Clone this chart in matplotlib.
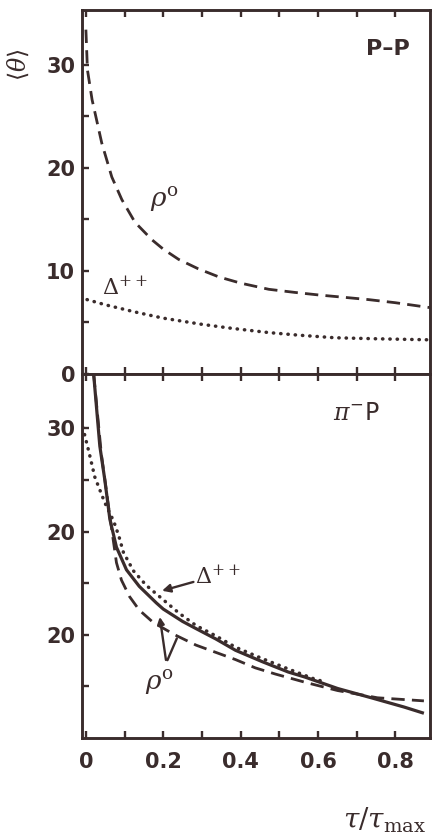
import numpy as np
import matplotlib
matplotlib.use("Agg")
import matplotlib.pyplot as plt
from matplotlib.ticker import MultipleLocator, FixedLocator

plt.rcParams['font.family'] = ['DejaVu Sans']
plt.rcParams['mathtext.fontset'] = 'dejavuserif'

INK = '#3a2c2c'

# верхняя панель: p-p
pp_rho_x = [0.0, 0.004, 0.016, 0.041, 0.067, 0.093, 0.127, 0.171, 0.2, 0.24, 0.29, 0.344,
            0.4, 0.473, 0.54, 0.602, 0.66, 0.731, 0.8, 0.894]
pp_rho_y = [33.4, 29.5, 26.6, 22.4, 19.1, 16.9, 14.7, 13.0, 12.1, 11.1, 10.2, 9.4,
            8.8, 8.2, 7.9, 7.65, 7.45, 7.2, 6.9, 6.4]
pp_delta_x = [0.003, 0.05, 0.127, 0.2, 0.30, 0.38, 0.473, 0.55, 0.643, 0.75, 0.886]
pp_delta_y = [7.2, 6.7, 6.0, 5.4, 4.8, 4.4, 4.0, 3.75, 3.5, 3.4, 3.3]

# нижняя панель: pi- p
pip_solid_x = [0.02, 0.036, 0.049, 0.062, 0.079, 0.105, 0.138, 0.182, 0.2, 0.25, 0.285, 0.336,
               0.387, 0.456, 0.523, 0.567, 0.651, 0.738, 0.823, 0.874]
pip_solid_y = [35.3, 28.3, 25.0, 21.2, 18.5, 16.3, 14.7, 13.1, 12.5, 11.3, 10.6, 9.6,
               8.5, 7.4, 6.4, 5.9, 4.8, 3.9, 3.0, 2.4]
pip_rho_x = [0.02, 0.04, 0.062, 0.079, 0.092, 0.113, 0.138, 0.174, 0.23, 0.285, 0.336, 0.387,
             0.438, 0.49, 0.567, 0.651, 0.754, 0.874]
pip_rho_y = [35.3, 27.5, 21.5, 17.0, 15.3, 13.7, 12.4, 11.2, 10.0, 9.0, 8.3, 7.6,
             6.8, 6.2, 5.4, 4.6, 3.9, 3.6]
pip_delta_x = [-0.008, 0.008, 0.023, 0.049, 0.072, 0.085, 0.097, 0.123, 0.156, 0.2, 0.241,
               0.285, 0.336, 0.387, 0.456, 0.523, 0.585, 0.62]
pip_delta_y = [30.1, 27.7, 25.3, 22.8, 21.0, 19.6, 18.0, 16.2, 14.8, 13.4, 12.1,
               10.9, 9.9, 8.8, 7.7, 6.7, 5.8, 5.4]

top_yticks = [0, 10, 20, 30]
top_ylabels = ['0', '10', '20', '30']
bot_yticks = [10, 20, 30]
bot_ylabels = ['20', '20', '30']
x_tick_text = ['0', '', '0.2', '', '0.4', '', '0.6', '', '0.8']

fig = plt.figure(figsize=(4.34, 8.40), dpi=100)
fig.patch.set_facecolor('white')
ax1 = fig.add_axes([0.189, 0.555, 0.802, 0.433])
ax2 = fig.add_axes([0.189, 0.1214, 0.802, 0.4336])

dash = (0, (4.8, 2.6))
dots = (0, (0.1, 2.0))

ax1.plot(pp_rho_x, pp_rho_y, color=INK, lw=2.0, linestyle=dash)
ax1.plot(pp_delta_x, pp_delta_y, color=INK, lw=2.5, linestyle=dots, dash_capstyle='round')

ax2.plot(pip_solid_x, pip_solid_y, color=INK, lw=2.3, solid_capstyle='butt')
ax2.plot(pip_rho_x, pip_rho_y, color=INK, lw=2.0, linestyle=dash)
ax2.plot(pip_delta_x, pip_delta_y, color=INK, lw=2.5, linestyle=dots, dash_capstyle='round')

for ax in (ax1, ax2):
    ax.set_xlim(-0.01, 0.89)
    ax.set_ylim(0, 35.3)
    ax.xaxis.set_major_locator(MultipleLocator(0.1))
    ax.yaxis.set_minor_locator(FixedLocator([5, 15, 25]))
    ax.tick_params(axis='both', which='both', direction='in', colors=INK,
                   width=1.7, length=5, labelsize=15, labelcolor=INK)
    ax.tick_params(axis='x', top=True, bottom=True)
    ax.tick_params(axis='y', left=True, right=False, pad=5)
    for s in ax.spines.values():
        s.set_color(INK)
        s.set_linewidth(2.1)

ax1.set_yticks(top_yticks)
ax1.set_yticklabels(top_ylabels, fontweight='bold')
ax1.tick_params(axis='x', labelbottom=False)
ax2.set_yticks(bot_yticks)
ax2.set_yticklabels(bot_ylabels, fontweight='bold')
ax2.set_xticks([0.1 * i for i in range(9)])
ax2.set_xticklabels(x_tick_text, fontweight='bold')
ax2.tick_params(axis='x', pad=10)

ax1.text(0.204, 16.9, r'$\rho^{\rm o}$', fontsize=19, color=INK, ha='center', va='center')
ax1.text(0.10, 8.4, r'$\Delta^{++}$', fontsize=16, color=INK, ha='center', va='center')
ax1.text(0.78, 31.5, 'P–P', fontsize=16, fontweight='bold', color=INK, ha='center', va='center')

ax2.text(0.70, 31.5, r'$\pi^{-}$P', fontsize=17, color=INK, ha='center', va='center')
ax2.text(0.34, 15.7, r'$\Delta^{++}$', fontsize=16, color=INK, ha='center', va='center')
ax2.annotate('', xy=(0.19, 14.2), xytext=(0.285, 15.2),
             arrowprops=dict(arrowstyle='-|>', color=INK, lw=1.7, mutation_scale=12))
ax2.text(0.19, 5.4, r'$\rho^{\rm o}$', fontsize=19, color=INK, ha='center', va='center')
ax2.annotate('', xy=(0.19, 12.0), xytext=(0.208, 7.3),
             arrowprops=dict(arrowstyle='-|>', color=INK, lw=1.7, mutation_scale=10))
ax2.annotate('', xy=(0.238, 9.9), xytext=(0.208, 7.3),
             arrowprops=dict(arrowstyle='-', color=INK, lw=1.7))

fig.text(0.042, 1 - 65 / 840, r'$\langle\theta\rangle$', rotation=90, fontsize=17,
         color=INK, ha='center', va='center')
fig.text(0.885, 1 - 820 / 840, r'$\tau/\tau_{\rm max}$', fontsize=20, color=INK,
         ha='center', va='center')

fig.savefig('out.png', dpi=100, facecolor='white')
